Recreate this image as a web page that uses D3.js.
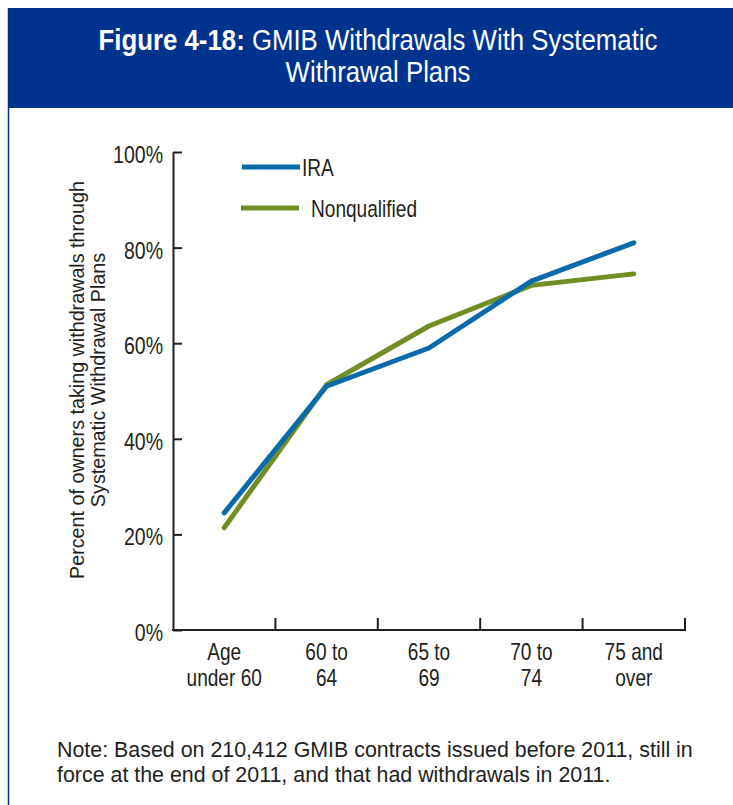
<!DOCTYPE html>
<html>
<head>
<meta charset="utf-8">
<script src="https://cdn.jsdelivr.net/npm/d3@7"></script>
<style>
  html, body { margin: 0; padding: 0; background: #fff; }
  svg { display: block; }
  text { font-family: "Liberation Sans", Arial, sans-serif; }
</style>
</head>
<body>
<svg id="chart" width="733" height="805"></svg>
<script>
// ---- data ----
const categories = ["Age under 60", "60 to 64", "65 to 69", "70 to 74", "75 and over"];
const categoryLines = [["Age", "under 60"], ["60 to", "64"], ["65 to", "69"], ["70 to", "74"], ["75 and", "over"]];
const iraValues = [24.5, 51.0, 59.0, 73.0, 81.0];
const nonqualifiedValues = [21.4, 51.3, 63.6, 72.1, 74.5];
const seriesNames = ["IRA", "Nonqualified"];
const yTicks = [0, 20, 40, 60, 80, 100];
const titleBold = "Figure 4-18:";
const titleRest = " GMIB Withdrawals With Systematic";
const titleLine2 = "Withrawal Plans";
const yLabelLines = ["Percent of owners taking withdrawals through", "Systematic Withdrawal Plans"];
const noteLines = ["Note: Based on 210,412 GMIB contracts issued before 2011, still in",
                   "force at the end of 2011, and that had withdrawals in 2011."];

// ---- styles ----
const colors = { IRA: "#0A6BAA", Nonqualified: "#708E22" };
const headerBlue = "#00338E";
const axisColor = "#231F20";
const textColor = "#231F20";
const condense = 0.83;

const svg = d3.select("#chart");

// helper: horizontally condensed text group
function ctext(parent, x, y, scale, size) {
  return parent.append("g").attr("transform", `translate(${x},${y}) scale(${scale},1)`)
    .append("text").attr("font-size", size).attr("fill", textColor);
}

// frame / header
svg.append("rect").attr("x", 8).attr("y", 8).attr("width", 740).attr("height", 100).attr("fill", headerBlue);
svg.append("line").attr("x1", 8.5).attr("x2", 8.5).attr("y1", 8).attr("y2", 805)
  .attr("stroke", headerBlue).attr("stroke-width", 1.5);

const t1 = ctext(svg, 378, 50, 0.86, 30).attr("text-anchor", "middle").attr("fill", "#fff");
t1.append("tspan").attr("font-weight", "bold").text(titleBold);
t1.append("tspan").text(titleRest);
ctext(svg, 378, 82, 0.86, 30).attr("text-anchor", "middle").attr("fill", "#fff").text(titleLine2);

// scales
const x = d3.scaleBand().domain(categories).range([173, 685]).padding(0);
const y = d3.scaleLinear().domain([0, 100]).range([630, 152]);

// y axis
const yAxis = d3.axisLeft(y).tickValues(yTicks).tickFormat(d => d + "%")
  .tickSizeInner(-9).tickSizeOuter(0).tickPadding(10);
const gy = svg.append("g").attr("transform", "translate(173,0)").call(yAxis);
gy.select(".domain").attr("stroke", axisColor).attr("stroke-width", 2);
gy.selectAll(".tick line").attr("stroke", axisColor).attr("stroke-width", 2);
gy.selectAll(".tick text").attr("font-size", 23).attr("fill", textColor)
  .attr("font-family", "Liberation Sans, Arial, sans-serif")
  .attr("x", -10 / 0.85).attr("transform", "scale(0.85,1)").attr("dy", "0.46em");

// x axis line + boundary ticks
const gx = svg.append("g");
gx.append("line").attr("x1", 172).attr("x2", 686).attr("y1", y(0)).attr("y2", y(0))
  .attr("stroke", axisColor).attr("stroke-width", 2);
gx.selectAll("line.xt").data(categories).enter().append("line").attr("class", "xt")
  .attr("x1", d => x(d) + x.bandwidth()).attr("x2", d => x(d) + x.bandwidth())
  .attr("y1", y(0)).attr("y2", y(0) - 12)
  .attr("stroke", axisColor).attr("stroke-width", 2);
categories.forEach((d, i) => {
  const t = ctext(gx, x(d) + x.bandwidth() / 2, 0, condense, 23).attr("text-anchor", "middle");
  categoryLines[i].forEach((ln, j) => {
    t.append("tspan").attr("x", 0).attr("y", 660 + j * 26).text(ln);
  });
});

// y label
const yl = svg.append("g").attr("transform", "translate(0,380) rotate(-90) scale(0.94,1)")
  .append("text").attr("text-anchor", "middle").attr("font-size", 21).attr("fill", textColor);
yLabelLines.forEach((ln, j) => {
  yl.append("tspan").attr("x", 0).attr("y", 84 + j * 21).text(ln);
});

// lines
const line = d3.line().x((d, i) => x(categories[i]) + x.bandwidth() / 2).y(d => y(d));
const series = [{ name: "IRA", values: iraValues }, { name: "Nonqualified", values: nonqualifiedValues }];
svg.selectAll("path.series").data(series.slice().reverse()).enter().append("path")
  .attr("class", "series")
  .attr("d", d => line(d.values))
  .attr("fill", "none").attr("stroke", d => colors[d.name])
  .attr("stroke-width", 5).attr("stroke-linecap", "round").attr("stroke-linejoin", "round");

// legend
const legend = [{ name: "IRA", x1: 242, x2: 300, y: 167, tx: 302, ty: 176 },
                { name: "Nonqualified", x1: 241, x2: 299, y: 208, tx: 311, ty: 217 }];
legend.forEach(l => {
  svg.append("line").attr("x1", l.x1).attr("x2", l.x2).attr("y1", l.y).attr("y2", l.y)
    .attr("stroke", colors[l.name]).attr("stroke-width", 5);
  ctext(svg, l.tx, l.ty, condense, 23).text(l.name);
});

// note
noteLines.forEach((ln, j) => {
  svg.append("text").attr("x", 57).attr("y", 757 + j * 25).attr("font-size", 21.4)
    .attr("fill", textColor).text(ln);
});
</script>
</body>
</html>
